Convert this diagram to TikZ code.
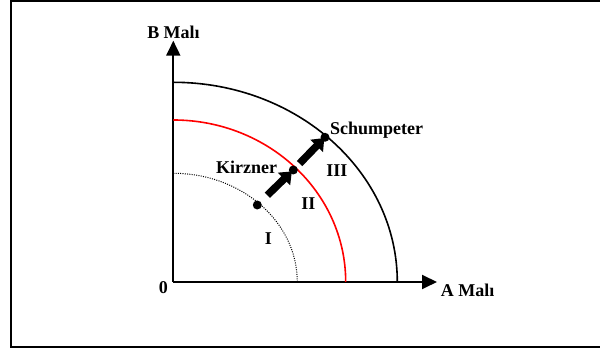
\documentclass[tikz,border=0pt]{standalone}
\usepackage{fontspec}
\setmainfont{Liberation Serif}
\usetikzlibrary{arrows.meta}
\begin{document}
\begin{tikzpicture}[x=1pt,y=1pt,
  lbl/.style={font=\fontsize{18}{20}\selectfont\bfseries, inner sep=0pt},
  axisline/.style={line width=1.9pt, -{Triangle[length=15pt,width=14pt]}},
  dotnode/.style={circle, fill=black, inner sep=0pt, minimum size=9pt},
  bigarrow/.style={line width=7.5pt, -{Triangle[length=11pt,width=17pt]}},
  curve/.style={line width=1.6pt}]
\useasboundingbox (-173.3,-70) rectangle (426.7,282);
% frame
\draw[line width=2.2pt] (430,281) -- (-162.3,281) -- (-162.3,-65) -- (430,-65);
% axes
\coordinate (O) at (0,0);
\coordinate (ytip) at (0,241.3);
\coordinate (xtip) at (263.7,0);
\draw[axisline] (O) -- (ytip);
\draw[axisline] (O) -- (xtip);
% curves
\draw[curve] (0,199.7) arc[start angle=90,end angle=0,x radius=224,y radius=199.7];
\draw[curve,red] (0,162) arc[start angle=90,end angle=0,x radius=172.4,y radius=162];
\draw[line width=1pt,dash pattern=on 1pt off 1.3pt] (0,108.7) arc[start angle=90,end angle=0,x radius=124,y radius=108.7];
% labels
\node[lbl,anchor=base] (bm) at (0.2,243.7) {B Malı};
\node[lbl,anchor=base west] (am) at (267.4,-15) {A Malı};
\node[lbl,anchor=base] (zero) at (-10,-11.3) {0};
\node[lbl,anchor=base west] (schu) at (156.7,147) {Schumpeter};
\node[lbl,anchor=base west] (kirz) at (42.7,108) {Kirzner};
\node[lbl,anchor=base] (r3) at (163.7,105.3) {III};
\node[lbl,anchor=base] (r2) at (135,72) {II};
\node[lbl,anchor=base] (r1) at (95,37) {I};
% dots
\node[dotnode] (d1) at (84,77) {};
\node[dotnode] (d2) at (120,112) {};
\node[dotnode] (d3) at (151.7,144.7) {};
% block arrows
\draw[bigarrow,shorten <=14pt,shorten >=2pt] (d1.center) -- (d2.center);
\draw[bigarrow,shorten <=9pt,shorten >=1pt] (d2.center) -- (d3.center);
\end{tikzpicture}
\end{document}
